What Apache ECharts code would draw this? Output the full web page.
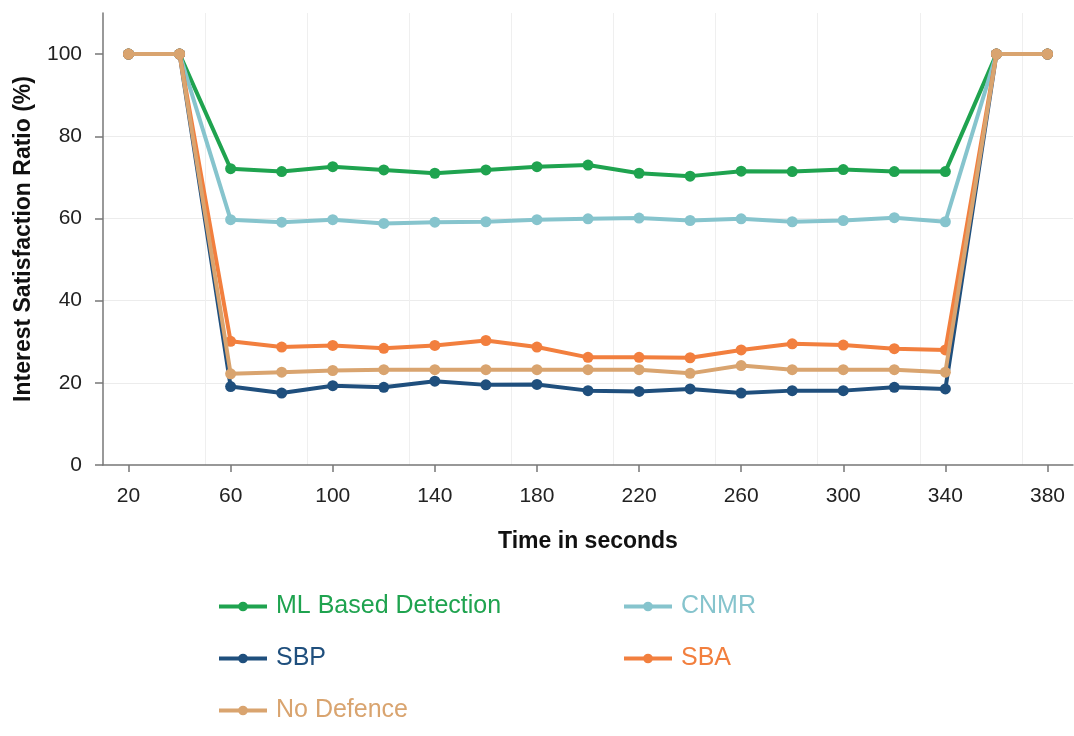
<!DOCTYPE html>
<html>
<head>
<meta charset="utf-8">
<script src="https://cdn.jsdelivr.net/npm/echarts@6/dist/echarts.min.js"></script>
<style>html,body{margin:0;padding:0;background:#fff;}#c{width:1074px;height:736px;}</style>
</head>
<body>
<div id="c"></div>
<script>
const times = [20,40,60,80,100,120,140,160,180,200,220,240,260,280,300,320,340,360,380];
const xTickLabels = [20,60,100,140,180,220,260,300,340,380];
const yTickLabels = [0,20,40,60,80,100];
const seriesNames = ['ML Based Detection','CNMR','SBP','SBA','No Defence'];
const mlBased   = [100,100,72.1,71.4,72.6,71.8,71.0,71.8,72.6,73.0,71.0,70.3,71.5,71.4,71.9,71.4,71.4,100,100];
const cnmr      = [100,100,59.7,59.1,59.7,58.8,59.1,59.2,59.7,59.9,60.1,59.5,59.9,59.2,59.5,60.2,59.2,100,100];
const sbp       = [100,100,19.1,17.5,19.3,18.9,20.4,19.5,19.6,18.1,17.9,18.5,17.5,18.1,18.1,18.9,18.5,100,100];
const sba       = [100,100,30.1,28.7,29.1,28.4,29.1,30.3,28.7,26.2,26.2,26.1,28.0,29.5,29.2,28.3,28.0,100,100];
const noDefence = [100,100,22.2,22.6,23.0,23.2,23.2,23.2,23.2,23.2,23.2,22.3,24.2,23.2,23.2,23.2,22.6,100,100];
const colors = ['#1fa34f','#86c4cd','#1f4f7d','#f27f3e','#d9a46f'];

const allData = [mlBased, cnmr, sbp, sba, noDefence];
const pairs = arr => times.map((t,i) => [t, arr[i]]);

const chart = echarts.init(document.getElementById('c'));
const legendItem = (i) => ({name: seriesNames[i], textStyle: {color: colors[i]}});
const legendBase = {
  orient: 'vertical', top: 594, padding: 0, itemGap: 27, itemWidth: 48, itemHeight: 12,
  textStyle: {fontSize: 25, padding: [0, 0, 0, 4]},
  lineStyle: {width: 4}
};
chart.setOption({
  backgroundColor: '#ffffff',
  animation: false,
  textStyle: {fontFamily: 'Liberation Sans, Arial, sans-serif'},
  grid: {left: 103, right: 1, top: 13, bottom: 271, containLabel: false},
  xAxis: [{
    type: 'value', min: 10, max: 390, interval: 40,
    name: 'Time in seconds', nameLocation: 'middle', nameGap: 65,
    nameTextStyle: {fontSize: 23, fontWeight: 'bold', color: '#111'},
    axisLine: {show: true, lineStyle: {color: '#777', width: 1.5}},
    axisTick: {show: true, customValues: xTickLabels, length: 7, lineStyle: {color: '#777', width: 1.5}},
    axisLabel: {customValues: xTickLabels, fontSize: 21, color: '#222', margin: 21},
    splitLine: {show: false}
  }, {
    type: 'value', min: 10, max: 390, interval: 40, position: 'bottom',
    axisLine: {show: false}, axisTick: {show: false}, axisLabel: {show: false},
    splitLine: {show: true, showMinLine: false, showMaxLine: false, lineStyle: {color: '#efefef', width: 1}}
  }],
  yAxis: {
    type: 'value', min: 0, max: 110, interval: 20,
    name: 'Interest Satisfaction Ratio (%)', nameLocation: 'middle', nameGap: 68,
    nameTextStyle: {fontSize: 23, fontWeight: 'bold', color: '#111'},
    axisLine: {show: true, lineStyle: {color: '#777', width: 1.5}},
    axisTick: {show: true, customValues: yTickLabels, length: 8, lineStyle: {color: '#777', width: 1.5}},
    axisLabel: {customValues: yTickLabels, fontSize: 21, color: '#222', margin: 21},
    splitLine: {show: true, showMinLine: false, showMaxLine: false, lineStyle: {color: '#ececec', width: 1}}
  },
  legend: [
    Object.assign({left: 217, data: [legendItem(0), legendItem(2), legendItem(4)]}, legendBase),
    Object.assign({left: 622, data: [legendItem(1), legendItem(3)]}, legendBase)
  ],
  series: allData.map((arr, i) => ({
    name: seriesNames[i], type: 'line', xAxisIndex: 0,
    data: pairs(arr),
    symbol: 'circle', symbolSize: 11,
    lineStyle: {color: colors[i], width: 4},
    itemStyle: {color: colors[i]},
    z: 2 + i
  }))
});
</script>
</body>
</html>
